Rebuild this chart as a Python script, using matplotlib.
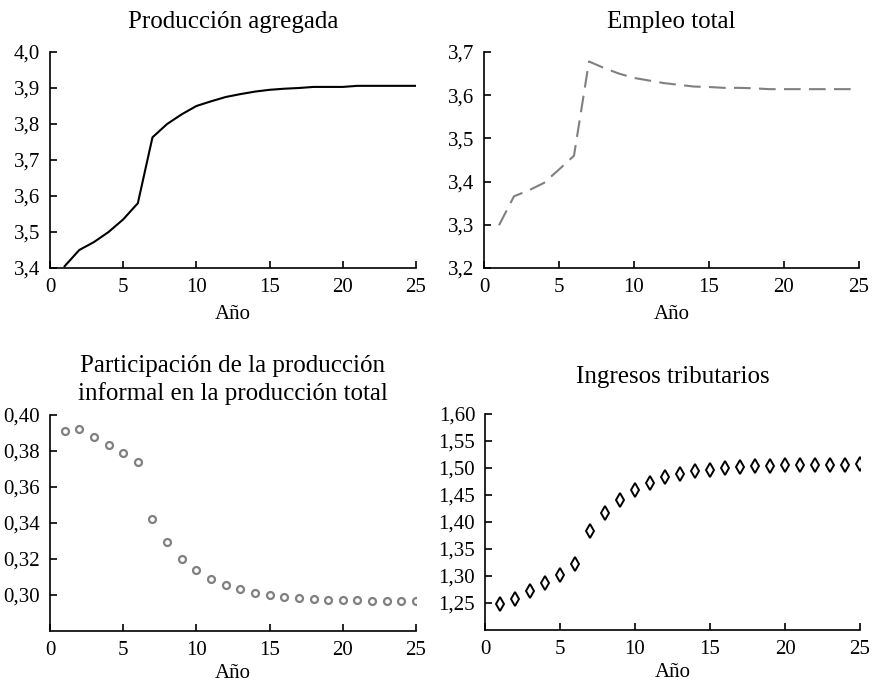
""" Four-panel simulation results: output, employment, informality, taxes """

import numpy as np
from matplotlib import pyplot as plt
from matplotlib.ticker import FuncFormatter

plt.rcParams['font.family'] = ['Liberation Serif', 'DejaVu Serif']
plt.rcParams['font.size'] = 15

years = np.arange(1, 26)

produccion = [3.405, 3.450, 3.472, 3.500, 3.535, 3.580, 3.763, 3.800, 3.827,
              3.850, 3.863, 3.875, 3.883, 3.890, 3.895, 3.898, 3.900, 3.903,
              3.903, 3.903, 3.906, 3.906, 3.906, 3.906, 3.906]

empleo = [3.299, 3.366, 3.380, 3.397, 3.428, 3.460, 3.678, 3.663, 3.650,
          3.640, 3.634, 3.628, 3.624, 3.620, 3.619, 3.617, 3.617, 3.616,
          3.614, 3.614, 3.614, 3.614, 3.614, 3.614, 3.614]

informal = [0.3911, 0.3922, 0.3880, 0.3833, 0.3789, 0.3739, 0.3422, 0.3294,
            0.3200, 0.3139, 0.3089, 0.3054, 0.3033, 0.3009, 0.2998, 0.2989,
            0.2983, 0.2978, 0.2972, 0.2972, 0.2972, 0.2967, 0.2967, 0.2967,
            0.2967]

ingresos = [1.248, 1.258, 1.273, 1.287, 1.302, 1.322, 1.383, 1.417, 1.441,
            1.460, 1.473, 1.483, 1.488, 1.494, 1.497, 1.500, 1.502, 1.503,
            1.503, 1.506, 1.506, 1.506, 1.506, 1.506, 1.507]

titles = ['Producción agregada', 'Empleo total',
          'Participación de la producción\ninformal en la producción total',
          'Ingresos tributarios']


def comma_fmt(decimals):
    return FuncFormatter(lambda v, pos: f'{v:.{decimals}f}'.replace('.', ','))


def style_axes(ax, yticks, ylim, decimals, labelpad=6):
    for side in ('top', 'right'):
        ax.spines[side].set_visible(False)
    ax.spines['left'].set_linewidth(1.2)
    ax.spines['bottom'].set_linewidth(1.2)
    ax.set_xlim(0, 25)
    ax.set_xticks([0, 5, 10, 15, 20, 25])
    ax.set_ylim(*ylim)
    ax.set_yticks(yticks)
    ax.yaxis.set_major_formatter(comma_fmt(decimals))
    ax.tick_params(direction='in', length=5, width=1.2, pad=7)
    ax.set_xlabel('Año', labelpad=labelpad)


fig = plt.figure(figsize=(8.77, 6.84), dpi=100)

W, H = 877, 684
boxes = [(50, 52, 416, 268), (484, 52, 859, 268),
         (50, 415, 416, 631), (485, 414, 860, 630)]
axes = [fig.add_axes([l / W, 1 - b / H, (r - l) / W, (b - t) / H])
        for l, t, r, b in boxes]

ax = axes[0]
ax.plot(years, produccion, color='black', lw=1.5)
style_axes(ax, np.arange(3.4, 4.01, 0.1), (3.4, 4.0), 1)
ax.set_title(titles[0], pad=17)

ax = axes[1]
ax.plot(years, empleo, color='#808080', lw=1.5, dashes=(8, 4))
style_axes(ax, np.arange(3.2, 3.71, 0.1), (3.2, 3.7), 1)
ax.set_title(titles[1], pad=17)

ax = axes[2]
ax.plot(years, informal, ls='none', marker='o', ms=5, mfc='white',
        mec='#808080', mew=1.6)
style_axes(ax, np.arange(0.30, 0.401, 0.02), (0.28, 0.40), 2, labelpad=3)
ax.set_title(titles[2], pad=11, linespacing=1.25)

ax = axes[3]
ax.plot(years, ingresos, ls='none', marker='d', ms=7, mfc='white',
        mec='black', mew=1.4)
style_axes(ax, np.arange(1.25, 1.601, 0.05), (1.20, 1.60), 2, labelpad=3)
ax.set_title(titles[3], pad=22)

fig.savefig('out.png', dpi=100)
